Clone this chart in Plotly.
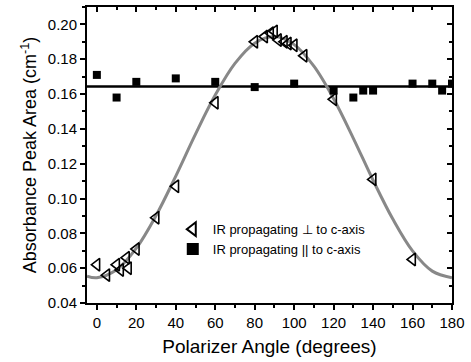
import plotly.graph_objects as go

# Data
perp_angle = [0, 5, 10, 12, 15, 16, 20, 30, 40, 60, 80, 85, 88, 90, 92, 95, 97, 100, 105, 120, 140, 160]
perp_area = [0.062, 0.056, 0.062, 0.059, 0.066, 0.060, 0.071, 0.089, 0.107, 0.155,
             0.190, 0.193, 0.195, 0.196, 0.191, 0.190, 0.189, 0.188, 0.182, 0.157, 0.111, 0.065]

par_angle = [0, 10, 20, 40, 60, 80, 100, 120, 130, 135, 140, 160, 170, 175, 180]
par_area = [0.171, 0.158, 0.167, 0.169, 0.167, 0.164, 0.166, 0.162, 0.158, 0.162, 0.162,
            0.166, 0.166, 0.162, 0.166]

# fitted curves
fit_angle = [-5, 0, 10, 20, 30, 40, 50, 60, 70, 80, 90, 100, 110, 120, 130, 140, 150, 160, 170, 180]
fit_area = [0.0554, 0.0545, 0.0591, 0.0715, 0.0902, 0.1129, 0.1370, 0.1594, 0.1776, 0.1892,
            0.1930, 0.1884, 0.1760, 0.1573, 0.1346, 0.1105, 0.0882, 0.0699, 0.0583, 0.0545]
flat_angle = [-5, 180]
flat_area = [0.1644, 0.1644]

x_ticks = [0, 20, 40, 60, 80, 100, 120, 140, 160, 180]
y_ticks = [0.04, 0.06, 0.08, 0.10, 0.12, 0.14, 0.16, 0.18, 0.20]

FONT = "Liberation Sans, Arial, sans-serif"

fig = go.Figure()
fig.add_trace(go.Scatter(x=flat_angle, y=flat_area, mode="lines",
                         line=dict(color="black", width=2.5), showlegend=False, hoverinfo="skip"))
fig.add_trace(go.Scatter(x=fit_angle, y=fit_area, mode="lines", line_shape="spline",
                         line=dict(color="#888888", width=3), showlegend=False, hoverinfo="skip"))
fig.add_trace(go.Scatter(x=perp_angle, y=perp_area, mode="markers",
                         name="IR propagating \u22a5 to c-axis",
                         marker=dict(symbol="triangle-left-open", size=11, color="black",
                                     line=dict(width=1.6, color="black"))))
fig.add_trace(go.Scatter(x=par_angle, y=par_area, mode="markers",
                         name="IR propagating || to c-axis",
                         marker=dict(symbol="square", size=8, color="black")))

common = dict(showgrid=False, zeroline=False, showline=True, linecolor="black", linewidth=2,
              tickcolor="black", tickwidth=1.5)

fig.update_layout(
    width=471, height=362,
    margin=dict(l=87, r=19, t=7, b=59),
    paper_bgcolor="white", plot_bgcolor="white",
    font=dict(family=FONT, color="black", size=14),
    legend=dict(x=0.235, y=0.30, xanchor="left", yanchor="top",
                bgcolor="rgba(0,0,0,0)", font=dict(size=13, family=FONT),
                tracegroupgap=0, itemsizing="constant"),
    xaxis=dict(range=[-5, 180], tickvals=x_ticks, ticks="outside", ticklen=5,
               minor=dict(dtick=10, tick0=0, ticks="outside", ticklen=3, tickcolor="black"),
               title=dict(text="Polarizer Angle (degrees)", font=dict(size=19), standoff=10),
               tickfont=dict(size=15), **common),
    yaxis=dict(range=[0.04, 0.21], tickvals=y_ticks, tickformat=".2f", ticks="outside", ticklen=5,
               minor=dict(dtick=0.01, tick0=0, ticks="outside", ticklen=3, tickcolor="black"),
               title=dict(text="Absorbance Peak Area (cm<sup>-1</sup>)", font=dict(size=18), standoff=6),
               tickfont=dict(size=15), **common),
    xaxis2=dict(range=[-5, 180], overlaying="x", side="top", tickvals=x_ticks, showticklabels=False,
                ticks="inside", ticklen=5,
                minor=dict(dtick=10, tick0=0, ticks="inside", ticklen=3, tickcolor="black"),
                **common),
    yaxis2=dict(range=[0.04, 0.21], overlaying="y", side="right", tickvals=y_ticks, showticklabels=False,
                ticks="inside", ticklen=5,
                minor=dict(dtick=0.01, tick0=0, ticks="inside", ticklen=3, tickcolor="black"),
                **common),
)
# invisible trace that activates the mirrored axes
fig.add_trace(go.Scatter(x=[None], y=[None], xaxis="x2", yaxis="y2", showlegend=False, hoverinfo="skip"))

fig.write_html("out.html")
